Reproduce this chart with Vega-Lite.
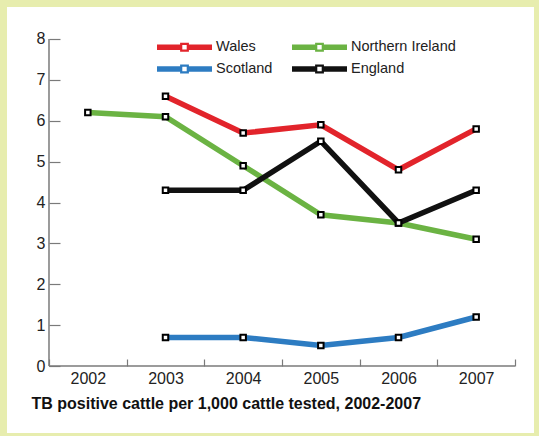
{
  "$schema": "https://vega.github.io/schema/vega-lite/v6.json",
  "width": 527,
  "height": 426,
  "autosize": {"type": "none"},
  "padding": {"left": 7, "top": 7, "right": 5, "bottom": 3},
  "background": "#e7edae",
  "config": {
    "view": {"fill": "white", "stroke": null},
    "font": "Liberation Sans"
  },
  "data": {
    "values": [
      {"year": "2003", "region": "Wales", "value": 6.6},
      {"year": "2004", "region": "Wales", "value": 5.7},
      {"year": "2005", "region": "Wales", "value": 5.9},
      {"year": "2006", "region": "Wales", "value": 4.8},
      {"year": "2007", "region": "Wales", "value": 5.8},
      {"year": "2002", "region": "Northern Ireland", "value": 6.2},
      {"year": "2003", "region": "Northern Ireland", "value": 6.1},
      {"year": "2004", "region": "Northern Ireland", "value": 4.9},
      {"year": "2005", "region": "Northern Ireland", "value": 3.7},
      {"year": "2006", "region": "Northern Ireland", "value": 3.5},
      {"year": "2007", "region": "Northern Ireland", "value": 3.1},
      {"year": "2003", "region": "Scotland", "value": 0.7},
      {"year": "2004", "region": "Scotland", "value": 0.7},
      {"year": "2005", "region": "Scotland", "value": 0.5},
      {"year": "2006", "region": "Scotland", "value": 0.7},
      {"year": "2007", "region": "Scotland", "value": 1.2},
      {"year": "2003", "region": "England", "value": 4.3},
      {"year": "2004", "region": "England", "value": 4.3},
      {"year": "2005", "region": "England", "value": 5.5},
      {"year": "2006", "region": "England", "value": 3.5},
      {"year": "2007", "region": "England", "value": 4.3}
    ]
  },
  "layer": [
    {
      "data": {"values": [{}]},
      "mark": {"type": "rule", "color": "#7a7a7a", "strokeWidth": 1.5},
      "encoding": {
        "x": {"datum": "2002", "type": "ordinal", "bandPosition": 0},
        "y": {"datum": 0, "type": "quantitative"},
        "y2": {"datum": 8}
      }
    },
    {
      "data": {"values": [{}]},
      "mark": {"type": "rule", "color": "#7a7a7a", "strokeWidth": 1.5},
      "encoding": {
        "x": {"datum": "2002", "type": "ordinal", "bandPosition": 0},
        "x2": {"datum": "2007", "bandPosition": 1},
        "y": {"datum": 0, "type": "quantitative"}
      }
    },
    {
      "transform": [{"filter": "datum.region !== 'England'"}],
      "mark": {"type": "line", "strokeWidth": 5.5},
      "encoding": {
        "x": {"field": "year", "type": "ordinal"},
        "y": {"field": "value", "type": "quantitative"},
        "color": {
          "field": "region",
          "type": "nominal",
          "scale": {
            "domain": ["Wales", "Northern Ireland", "Scotland", "England"],
            "range": ["#e2242b", "#6bb343", "#2d7cc2", "#111111"]
          },
          "legend": {
            "orient": "none",
            "legendX": 150,
            "legendY": 30,
            "columns": 2,
            "direction": "horizontal",
            "title": null,
            "padding": 0,
            "symbolType": "M-1,-0.28L1.31,-0.28L1.31,0.28L-1,0.28Z M2.19,-0.28L4.5,-0.28L4.5,0.28L2.19,0.28Z M1.31,-0.44L2.19,-0.44L2.19,0.44L1.31,0.44Z M1.53,-0.22L1.53,0.22L1.97,0.22L1.97,-0.22Z",
            "symbolSize": 400,
            "symbolStrokeWidth": 0,
            "labelFontSize": 14.5,
            "labelColor": "#222222",
            "labelOffset": 39,
            "columnPadding": 19,
            "rowPadding": 5,
            "encode": {
              "symbols": {
                "update": {
                  "fill": {"scale": "color", "field": "value"},
                  "stroke": {"value": "transparent"},
                  "strokeWidth": {"value": 0},
                  "opacity": {"value": 1}
                }
              }
            }
          }
        }
      }
    },
    {
      "transform": [{"filter": "datum.region === 'England'"}],
      "mark": {"type": "line", "strokeWidth": 5.5},
      "encoding": {
        "x": {"field": "year", "type": "ordinal"},
        "y": {"field": "value", "type": "quantitative"},
        "color": {"field": "region", "type": "nominal"}
      }
    },
    {
      "mark": {"type": "point", "shape": "square", "filled": true, "fill": "white", "stroke": "black", "strokeWidth": 2, "size": 30, "opacity": 1},
      "encoding": {
        "x": {
          "field": "year",
          "type": "ordinal",
          "scale": {
            "type": "band",
            "domain": ["2002", "2003", "2004", "2005", "2006", "2007"],
            "paddingInner": 0,
            "paddingOuter": 0.3927,
            "align": 0.6885
          },
          "axis": {
            "orient": "bottom",
            "offset": -67,
            "domain": false,
            "grid": false,
            "tickBand": "extent",
            "tickSize": -7,
            "tickColor": "#7a7a7a",
            "tickWidth": 1.2,
            "labelPadding": 11,
            "labelAngle": 0,
            "labelAlign": "center",
            "labelBaseline": "top",
            "labelFontSize": 16,
            "labelColor": "#222222",
            "title": "TB positive cattle per 1,000 cattle tested, 2002-2007",
            "titleX": 24,
            "titleY": 42,
            "titleAlign": "left",
            "titleBaseline": "alphabetic",
            "titleFontSize": 16,
            "titleFontWeight": "bold",
            "titleColor": "#111111"
          }
        },
        "y": {
          "field": "value",
          "type": "quantitative",
          "scale": {"domain": [-1.638, 8.782], "nice": false, "zero": false},
          "axis": {
            "orient": "left",
            "offset": -42,
            "values": [0, 1, 2, 3, 4, 5, 6, 7, 8],
            "domain": false,
            "grid": false,
            "tickSize": -11,
            "tickColor": "#7a7a7a",
            "tickWidth": 1.2,
            "labelPadding": 15,
            "labelFontSize": 16,
            "labelColor": "#222222",
            "title": null
          }
        }
      }
    }
  ]
}
